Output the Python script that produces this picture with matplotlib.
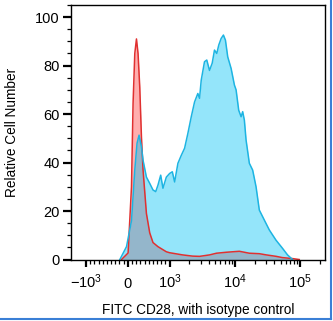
import numpy as np
import matplotlib
matplotlib.use("Agg")
import matplotlib.pyplot as plt
from matplotlib.lines import Line2D

plt.rcParams['font.family'] = ['Liberation Sans', 'DejaVu Sans']
plt.rcParams['mathtext.default'] = 'regular'
plt.rcParams['axes.unicode_minus'] = False

# Histogram data (FITC intensity, relative cell number)
isotype_x = [-150, 7, 88, 126, 167, 207, 245, 286, 326, 364, 445, 524, 602, 721, 921,
             1000, 1580, 2245, 2870, 4080, 5220, 7420, 11700, 16600, 23700, 30300,
             43000, 53100, 75500, 96600]
isotype_y = [0, 2.7, 30, 64.5, 85, 91, 85, 71, 50.6, 37, 19, 11, 7, 5.3, 3.2,
             2.8, 1.9, 1.4, 1.3, 1.9, 2.6, 3.0, 3.4, 2.6, 2.4, 1.9,
             1.3, 0.8, 0.4, 0]

cd28_x = [-190, -31, 88, 167, 221, 269, 326, 364, 445, 524, 602, 667, 721, 786, 840,
          921, 1000, 1099, 1192, 1339, 1509, 1694, 1901, 2144, 2408, 2703, 2870, 3047,
          3420, 3707, 4080, 4487, 4864, 5272, 5659, 6152, 6668, 7160, 7762, 8750, 9820,
          10420, 11430, 12440, 13150, 13960, 14820, 16640, 18700, 21080, 23660, 28200,
          33650, 42560, 53700, 64000, 76400]
cd28_y = [0, 5.3, 16, 37, 48, 51.3, 46.5, 41, 34, 31.4, 28.7, 28, 30.7, 34.8, 29.4,
          34, 35.5, 36.2, 32, 39.7, 43, 45.9, 52, 58.9, 65, 68.5, 66.5, 74,
          81.6, 82.3, 78, 81, 86.4, 85, 88.5, 91.2, 92.6, 90.5, 83.6, 78.8, 72,
          70, 61.6, 58.9, 61, 57.5, 49.3, 39.7, 36.9, 30, 20.4, 16.3,
          12.2, 8, 4.6, 1.9, 0]

x_major = [-1000, 0, 1000, 10000, 100000]
x_major_labels = ['$-10^{3}$', '0', '$10^{3}$', '$10^{4}$', '$10^{5}$']

fig = plt.figure(figsize=(3.33, 3.21), dpi=100)
ax = fig.add_axes([71 / 333, 61 / 321, 254 / 333, 255 / 321])

# isotype control (red), then CD28 (cyan, semi-transparent on top)
ax.fill_between(isotype_x, isotype_y, 0, color='#ff2020', alpha=0.36, lw=0)
ax.plot(isotype_x, isotype_y, color='#e03030', lw=1.1)
ax.fill_between(cd28_x, cd28_y, 0, color='#00c3f5', alpha=0.42, lw=0)
ax.plot(cd28_x, cd28_y, color='#1db4e2', lw=1.1)

# biexponential-like axis
ax.set_xscale('symlog', linthresh=1000, linscale=0.577)
ax.set_xlim(-1695, 240000)
ax.set_ylim(-0.2, 105)

minor = np.concatenate([np.arange(-900, 0, 100), np.arange(100, 1000, 100),
                        np.arange(2000, 10000, 1000), np.arange(20000, 100000, 10000),
                        [200000]])
ax.set_xticks(x_major, x_major_labels)
ax.set_xticks(minor, minor=True)
ax.set_yticks(np.arange(0, 101, 20))
ax.set_yticks(np.arange(0, 106, 5), minor=True)

for lbl in ax.get_xticklabels():
    lbl.set_verticalalignment('baseline')

ax.tick_params(axis='x', which='major', length=5, width=1.6, pad=15, labelsize=10.5)
ax.tick_params(axis='y', which='major', length=6, width=1.6, pad=2, labelsize=10.5)
ax.tick_params(which='minor', length=3, width=0.9)
for s in ax.spines.values():
    s.set_linewidth(1.0)

ax.set_xlabel('FITC CD28, with isotype control', fontsize=9.8, labelpad=9)
ax.set_ylabel('Relative Cell Number', fontsize=9.8, labelpad=12)

# blue frame lines at right and bottom edge of the picture
fig.add_artist(Line2D([331 / 333, 331 / 333], [2.5 / 321, 1], transform=fig.transFigure,
                      color='#3a7fd6', lw=1.5))
fig.add_artist(Line2D([0, 331 / 333], [2.5 / 321, 2.5 / 321], transform=fig.transFigure,
                      color='#3a7fd6', lw=1.5))

fig.savefig('out.png', dpi=100)
